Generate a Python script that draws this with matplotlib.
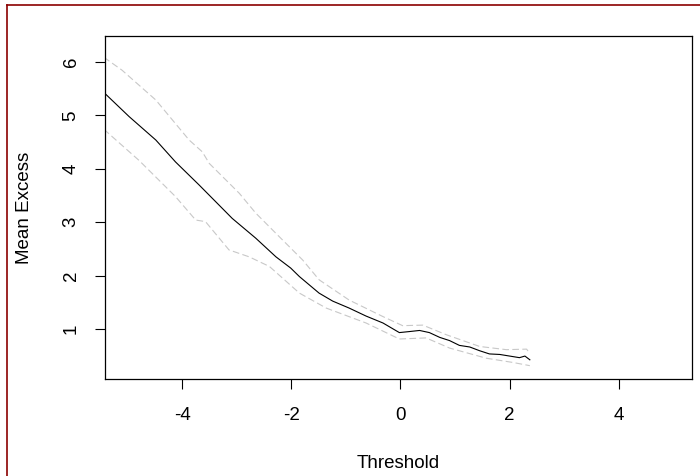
import matplotlib.pyplot as plt
from matplotlib.lines import Line2D

plt.rcParams["font.family"] = ["Liberation Sans", "DejaVu Sans"]

# mean residual life estimate and its confidence band
thr = [-5.43, -4.97, -4.48, -4.12, -3.69, -3.38, -3.08, -2.65, -2.28, -2.01,
       -1.85, -1.49, -1.24, -0.94, -0.63, -0.32, -0.02, 0.17, 0.35, 0.53,
       0.72, 0.90, 1.08, 1.27, 1.45, 1.63, 1.82, 2.00, 2.18, 2.28, 2.37]
mean_excess = [5.43, 4.98, 4.54, 4.13, 3.70, 3.38, 3.07, 2.70, 2.35, 2.14,
               1.98, 1.67, 1.52, 1.39, 1.24, 1.11, 0.93, 0.95, 0.97, 0.93,
               0.84, 0.78, 0.69, 0.66, 0.59, 0.53, 0.52, 0.49, 0.46, 0.49, 0.42]

upper_x = [-5.43, -5.10, -4.48, -3.87, -3.63, -3.50, -2.95, -2.65, -2.28, -1.79,
           -1.49, -0.94, -0.32, 0.04, 0.41, 0.84, 1.45, 1.94, 2.31, 2.37]
upper = [6.09, 5.85, 5.29, 4.54, 4.32, 4.10, 3.54, 3.17, 2.79, 2.29,
         1.92, 1.54, 1.23, 1.06, 1.07, 0.89, 0.67, 0.61, 0.62, 0.54]

lower_x = [-5.43, -4.79, -4.12, -3.75, -3.57, -3.14, -2.77, -2.40, -1.85, -1.36,
           -0.63, -0.02, 0.47, 0.90, 1.57, 2.06, 2.37]
lower = [4.74, 4.16, 3.48, 3.04, 3.01, 2.48, 2.35, 2.17, 1.67, 1.39,
         1.11, 0.81, 0.83, 0.64, 0.45, 0.37, 0.31]

xticks = [-4, -2, 0, 2, 4]
yticks = [1, 2, 3, 4, 5, 6]

fig = plt.figure(figsize=(7, 4.76), dpi=100)
ax = fig.add_axes([104.5 / 700, 1 - 379 / 476, (692 - 104.5) / 700, (379 - 36) / 476])

ax.plot(thr, mean_excess, color="black", lw=0.8)
ax.plot(upper_x, upper, color="#c8c8c8", lw=0.8, dashes=(6, 3))
ax.plot(lower_x, lower, color="#c8c8c8", lw=0.8, dashes=(6, 3))

ax.set_xlim(-5.42, 5.34)
ax.set_ylim(0.06, 6.49)
ax.set_xticks(xticks)
ax.set_xticklabels([str(t) for t in xticks])
ax.set_yticks(yticks)
ax.set_yticklabels([str(t) for t in yticks], rotation=90, va="center")
ax.tick_params(direction="out", length=7, width=0.8, labelsize=13.5)
ax.tick_params(axis="x", pad=13)
ax.tick_params(axis="y", pad=11)
for s in ax.spines.values():
    s.set_linewidth(0.9)

ax.set_xlabel("Threshold", fontsize=13.5, va="center")
ax.set_ylabel("Mean Excess", fontsize=13.5, va="center")
ax.xaxis.set_label_coords(0.5, (379 - 464) / 343)
ax.yaxis.set_label_coords((25 - 104.5) / 587.5, 0.5)

# dark red window frame along the top and left edges
fig.add_artist(Line2D([6.5 / 700, 1], [1 - 4.5 / 476] * 2, color="#8b0000", lw=1.2,
                      transform=fig.transFigure))
fig.add_artist(Line2D([6.5 / 700] * 2, [0, 1 - 4.5 / 476], color="#8b0000", lw=1.2,
                      transform=fig.transFigure))

fig.savefig("out.png", dpi=100)
